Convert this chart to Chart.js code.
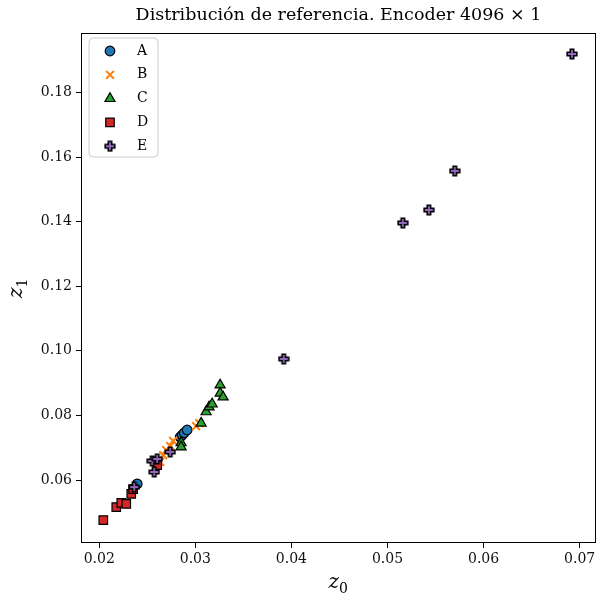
<!DOCTYPE html>
<html>
<head>
<meta charset="utf-8">
<script src="https://cdn.jsdelivr.net/npm/chart.js@4.4.1/dist/chart.umd.min.js"></script>
<style>
  html, body { margin: 0; padding: 0; background: #fff; }
</style>
</head>
<body>
<canvas id="chart" width="597" height="600"></canvas>
<script>
// Series data (z0, z1) per class
const seriesNames = ["A", "B", "C", "D", "E"];
const aX = [0.02395, 0.02842, 0.02863, 0.02884, 0.02915];
const aY = [0.0588, 0.0733, 0.0739, 0.0746, 0.0755];
const bX = [0.02634, 0.02665, 0.02696, 0.02738, 0.02769, 0.03008, 0.0304];
const bY = [0.0656, 0.0677, 0.0693, 0.0705, 0.0721, 0.0767, 0.0776];
const cX = [0.02852, 0.02852, 0.0306, 0.03112, 0.03143, 0.03175, 0.03258, 0.03258, 0.03289];
const cY = [0.0715, 0.0702, 0.0776, 0.0811, 0.0826, 0.0835, 0.0894, 0.0869, 0.0857];
const dX = [0.02042, 0.02177, 0.02229, 0.02281, 0.02333, 0.02353, 0.02603];
const dY = [0.0476, 0.0516, 0.0529, 0.0526, 0.0557, 0.0572, 0.0646];
const eX = [0.02364, 0.02551, 0.02603, 0.02572, 0.02738, 0.0392, 0.0516, 0.0543, 0.0570, 0.0692];
const eY = [0.0578, 0.0659, 0.0665, 0.0625, 0.0687, 0.0975, 0.1396, 0.1436, 0.1557, 0.1919];

// Axis ticks
const xTicks = [0.02, 0.03, 0.04, 0.05, 0.06, 0.07];
const yTicks = [0.06, 0.08, 0.10, 0.12, 0.14, 0.16, 0.18];

const titleText = "Distribución de referencia. Encoder 4096 × 1";
const serif = "'DejaVu Serif', serif";

// Filled plus marker with black edge
function plusMarker(fill) {
  const c = document.createElement("canvas");
  c.width = 12; c.height = 12;
  const g = c.getContext("2d");
  const m = 6, h = 1.7, l = 4.8;
  g.beginPath();
  g.moveTo(m - h, m - l); g.lineTo(m + h, m - l); g.lineTo(m + h, m - h);
  g.lineTo(m + l, m - h); g.lineTo(m + l, m + h); g.lineTo(m + h, m + h);
  g.lineTo(m + h, m + l); g.lineTo(m - h, m + l); g.lineTo(m - h, m + h);
  g.lineTo(m - l, m + h); g.lineTo(m - l, m - h); g.lineTo(m - h, m - h);
  g.closePath();
  g.fillStyle = fill; g.fill();
  g.strokeStyle = "#000"; g.lineWidth = 1.6; g.stroke();
  return c;
}

const toPoints = (xs, ys) => xs.map((x, i) => ({ x: x, y: ys[i] }));

const datasets = [
  { label: seriesNames[0], data: toPoints(aX, aY), pointStyle: "circle", pointRadius: 4.8,
    backgroundColor: "#1f77b4", borderColor: "#000", borderWidth: 1.2, order: 5 },
  { label: seriesNames[1], data: toPoints(bX, bY), pointStyle: "crossRot", pointRadius: 5.5,
    backgroundColor: "#ff7f0e", borderColor: "#ff7f0e", borderWidth: 2, order: 4 },
  { label: seriesNames[2], data: toPoints(cX, cY), pointStyle: "triangle", pointRadius: 5.8,
    backgroundColor: "#2ca02c", borderColor: "#000", borderWidth: 1.2, order: 3 },
  { label: seriesNames[3], data: toPoints(dX, dY), pointStyle: "rect", pointRadius: 6,
    backgroundColor: "#d62728", borderColor: "#000", borderWidth: 1.2, order: 2 },
  { label: seriesNames[4], data: toPoints(eX, eY), pointStyle: plusMarker("#9467bd"), pointRadius: 5,
    backgroundColor: "#9467bd", borderColor: "#000", borderWidth: 1.2, order: 1 }
];

// Frame, title, axis labels and inset legend
const decor = {
  id: "decor",
  afterDraw(chart) {
    const ctx = chart.ctx, a = chart.chartArea;
    ctx.save();
    ctx.strokeStyle = "#000";
    ctx.lineWidth = 1;
    ctx.strokeRect(Math.round(a.left) + 0.5, Math.round(a.top) + 0.5,
      Math.round(a.right - a.left) - 1, Math.round(a.bottom - a.top) - 1);

    const cx = (a.left + a.right) / 2;
    ctx.fillStyle = "#000";
    ctx.textAlign = "center";
    ctx.textBaseline = "alphabetic";
    ctx.font = "17.5px " + serif;
    ctx.fillText(titleText, cx, 20);

    // x label z0
    ctx.font = "italic 20px " + serif;
    ctx.textAlign = "left";
    const zw = ctx.measureText("z").width;
    ctx.fillText("z", cx - 10, 588);
    ctx.font = "14px " + serif;
    ctx.fillText("0", cx - 10 + zw, 593);

    // y label z1
    ctx.save();
    ctx.translate(22, (a.top + a.bottom) / 2);
    ctx.rotate(-Math.PI / 2);
    ctx.font = "italic 20px " + serif;
    ctx.fillText("z", -10, 0);
    ctx.font = "14px " + serif;
    ctx.fillText("1", -10 + zw, 5);
    ctx.restore();

    // legend box
    const bx = a.left + 8, by = a.top + 5, bw = 69, bh = 119, r = 4;
    ctx.beginPath();
    ctx.moveTo(bx + r, by);
    ctx.arcTo(bx + bw, by, bx + bw, by + bh, r);
    ctx.arcTo(bx + bw, by + bh, bx, by + bh, r);
    ctx.arcTo(bx, by + bh, bx, by, r);
    ctx.arcTo(bx, by, bx + bw, by, r);
    ctx.closePath();
    ctx.fillStyle = "rgba(255,255,255,0.8)";
    ctx.fill();
    ctx.strokeStyle = "#cccccc";
    ctx.stroke();

    chart.data.datasets.forEach((ds, i) => {
      const y = by + 13 + i * 23.8;
      ctx.fillStyle = ds.backgroundColor;
      ctx.strokeStyle = ds.borderColor;
      ctx.lineWidth = ds.borderWidth;
      Chart.helpers.drawPoint(ctx, {
        pointStyle: ds.pointStyle, rotation: 0,
        radius: ds.pointRadius, borderWidth: ds.borderWidth
      }, bx + 21, y);
      ctx.fillStyle = "#000";
      ctx.font = "14px " + serif;
      ctx.textAlign = "left";
      ctx.textBaseline = "middle";
      ctx.fillText(ds.label, bx + 48, y);
    });
    ctx.restore();
  }
};

const tickFont = { family: serif, size: 14 };

new Chart(document.getElementById("chart"), {
  type: "scatter",
  data: { datasets: datasets },
  options: {
    responsive: false,
    animation: false,
    devicePixelRatio: 1,
    layout: { autoPadding: false, padding: { top: 33, right: 1, left: 0, bottom: 0 } },
    plugins: { legend: { display: false }, tooltip: { enabled: false } },
    scales: {
      x: {
        type: "linear", min: 0.0181, max: 0.0717,
        afterBuildTicks: s => { s.ticks = xTicks.map(v => ({ value: v })); },
        afterFit: s => { s.height = 57; s.paddingLeft = 0; s.paddingRight = 0; },
        grid: { drawOnChartArea: false, drawTicks: true, tickLength: 5, color: "#000" },
        border: { display: false },
        ticks: { font: tickFont, color: "#111", padding: 3, maxRotation: 0,
          callback: v => v.toFixed(2) }
      },
      y: {
        type: "linear", min: 0.0405, max: 0.1984,
        afterBuildTicks: s => { s.ticks = yTicks.map(v => ({ value: v })); },
        afterFit: s => { s.width = 81; s.paddingTop = 0; s.paddingBottom = 0; },
        grid: { drawOnChartArea: false, drawTicks: true, tickLength: 5, color: "#000" },
        border: { display: false },
        ticks: { font: tickFont, color: "#111", padding: 4,
          callback: v => v.toFixed(2) }
      }
    }
  },
  plugins: [decor]
});
</script>
</body>
</html>
